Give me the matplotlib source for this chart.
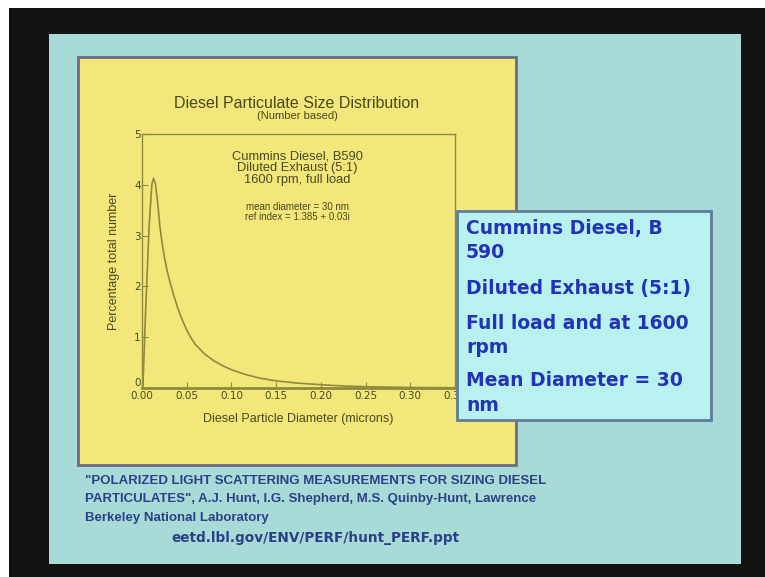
"""Slide: diesel particulate size distribution (number based)."""
import matplotlib
matplotlib.use('Agg')
import matplotlib.pyplot as plt
from matplotlib.patches import Rectangle

W, H = 765, 577

# Curve: diameter (microns) vs percentage of total number
DIAMETER = [0.0010, 0.0040, 0.0080, 0.0110, 0.0128, 0.0150, 0.0175, 0.0200,
            0.0225, 0.0250, 0.0275, 0.0300, 0.0350, 0.0400, 0.0450, 0.0500,
            0.0550, 0.0600, 0.0700, 0.0800, 0.0900, 0.1000, 0.1150, 0.1300,
            0.1500, 0.1750, 0.2000, 0.2250, 0.2500, 0.3000, 0.3500]
PERCENT = [0.00, 1.50, 3.20, 4.00, 4.13, 4.02, 3.65, 3.18,
           2.85, 2.58, 2.36, 2.17, 1.85, 1.57, 1.34, 1.14,
           0.98, 0.85, 0.67, 0.54, 0.44, 0.36, 0.27, 0.20,
           0.14, 0.095, 0.065, 0.04, 0.025, 0.01, 0.004]
XTICKS = [0.00, 0.05, 0.10, 0.15, 0.20, 0.25, 0.30, 0.35]
YTICKS = [0, 1, 2, 3, 4, 5]

BOX_LINES = ['Cummins Diesel, B', '590', 'Diluted Exhaust (5:1)',
             'Full load and at 1600', 'rpm', 'Mean Diameter = 30', 'nm']
CITATION = ['"POLARIZED LIGHT SCATTERING MEASUREMENTS FOR SIZING DIESEL',
            'PARTICULATES", A.J. Hunt, I.G. Shepherd, M.S. Quinby-Hunt, Lawrence',
            'Berkeley National Laboratory']
URL = 'eetd.lbl.gov/ENV/PERF/hunt_PERF.ppt'

INK = '#4a481a'
OLIVE = '#8e8a3e'
BLUE = '#2233b8'
NAVY = '#2c4088'


def fx(x):
    return x / W


def fy(y):
    return 1 - y / H


def rect(fig, x0, y0, x1, y1, z=-10, **kw):
    r = Rectangle((fx(x0), fy(y1)), fx(x1 - x0), (y1 - y0) / H,
                  transform=fig.transFigure, zorder=z, **kw)
    fig.add_artist(r)
    return r


def ptext(fig, x, y, s, **kw):
    kw.setdefault('zorder', 6)
    fig.text(fx(x), fy(y), s, **kw)


fig = plt.figure(figsize=(W / 100, H / 100), dpi=100)
fig.patch.set_facecolor('#121310')

# white scan margins, slide, yellow chart panel
rect(fig, 0, 0, W, 8, facecolor='white', edgecolor='none')
rect(fig, 0, 0, 9, H, facecolor='white', edgecolor='none')
rect(fig, 49, 34, 741, 564, facecolor='#a8dbd7', edgecolor='none')
rect(fig, 78, 57, 516, 465, facecolor='#f3e77c', edgecolor='#6c6a88',
     linewidth=2)

# chart
ax = fig.add_axes([fx(142), fy(388), fx(455 - 142), (388 - 134) / H])
ax.patch.set_alpha(0)
ax.plot(DIAMETER, PERCENT, color=OLIVE, linewidth=1.2)
ax.set_xlim(0, 0.35)
ax.set_ylim(0, 5)
ax.set_xticks(XTICKS)
ax.set_xticklabels([f'{t:.2f}' for t in XTICKS])
ax.set_yticks(YTICKS)
for sp in ax.spines.values():
    sp.set_color(OLIVE)
    sp.set_linewidth(1.0)
ax.spines['bottom'].set_linewidth(2.0)
ax.tick_params(direction='in', length=4, color=OLIVE, labelcolor=INK,
               labelsize=7.5, pad=2)
ax.tick_params(axis='y', pad=1)
# the "0" sits just above the x tick labels, as in the slide
ax.get_yticklabels()[0].set_verticalalignment('bottom')
ax.set_xlabel('Diesel Particle Diameter (microns)', fontsize=9, color=INK,
              family='Liberation Sans', labelpad=9)
ax.set_ylabel('Percentage total number', fontsize=9, color=INK,
              family='Liberation Sans', labelpad=10)

ptext(fig, 297, 103, 'Diesel Particulate Size Distribution', fontsize=11.5,
      color=INK, ha='center', va='center', family='Liberation Sans')
ptext(fig, 297, 116, '(Number based)', fontsize=8, color=INK, ha='center',
      va='center', family='Liberation Sans')
ptext(fig, 297, 168, 'Cummins Diesel, B590\nDiluted Exhaust (5:1)\n1600 rpm, full load',
      fontsize=9.3, color=INK, ha='center', va='center',
      family='Liberation Sans', linespacing=0.95)
ptext(fig, 297, 212, 'mean diameter = 30 nm\nref index = 1.385 + 0.03i',
      fontsize=7, color=INK, ha='center', va='center',
      family='Liberation Sans', linespacing=1.1)

# callout box
rect(fig, 457, 211, 711, 420, z=5, facecolor='#b9f0f0', edgecolor='#5e7c98',
     linewidth=2)
box_y = [234, 258, 294, 329, 353, 386, 411]
for s, y in zip(BOX_LINES, box_y):
    ptext(fig, 466, y, s, fontsize=13.5, fontweight='bold', color=BLUE,
          ha='left', va='baseline', family='DejaVu Sans')

# citation
for s, y in zip(CITATION, [484, 502, 521]):
    ptext(fig, 85, y, s, fontsize=9.5, fontweight='bold', color=NAVY,
          ha='left', va='baseline', family='Liberation Sans')
ptext(fig, 315, 542, URL, fontsize=9.8, fontweight='bold', color=NAVY,
      ha='center', va='baseline', family='DejaVu Sans')

fig.savefig('out.png', dpi=100, facecolor=fig.get_facecolor())
